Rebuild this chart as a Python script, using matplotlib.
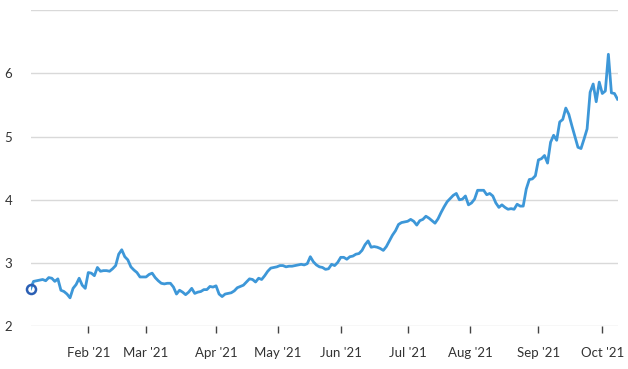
import numpy as np
import pandas as pd
import matplotlib
matplotlib.use("Agg")
import matplotlib.pyplot as plt

# ---- data (trading-day closes) ----
jan = [2.59, 2.71, 2.72, 2.73, 2.74, 2.72, 2.77, 2.76, 2.71, 2.75, 2.57, 2.55,
       2.51, 2.45, 2.60, 2.66, 2.76, 2.65, 2.60]
feb = [2.85, 2.84, 2.80, 2.93, 2.87, 2.88, 2.88, 2.87, 2.91, 2.96, 3.14, 3.21,
       3.10, 3.05, 2.94, 2.89, 2.85, 2.78, 2.78]
mar = [2.78, 2.82, 2.84, 2.77, 2.72, 2.68, 2.67, 2.68, 2.68, 2.62, 2.51, 2.57,
       2.54, 2.50, 2.54, 2.60, 2.52, 2.54, 2.55, 2.58, 2.58, 2.63, 2.62]
apr = [2.64, 2.51, 2.47, 2.51, 2.52, 2.53, 2.56, 2.61, 2.63, 2.65, 2.70, 2.75,
       2.74, 2.70, 2.76, 2.74, 2.80, 2.87, 2.92, 2.93, 2.94]
may = [2.96, 2.96, 2.94, 2.95, 2.95, 2.96, 2.97, 2.98, 2.97, 2.99, 3.10, 3.02,
       2.97, 2.94, 2.93, 2.90, 2.91, 2.98, 2.96, 3.01]
jun = [3.09, 3.09, 3.06, 3.10, 3.11, 3.14, 3.15, 3.20, 3.29, 3.35, 3.25, 3.26,
       3.25, 3.23, 3.20, 3.26, 3.35, 3.44, 3.51, 3.61, 3.64, 3.65]
jul = [3.66, 3.69, 3.66, 3.60, 3.67, 3.69, 3.74, 3.71, 3.67, 3.63, 3.70, 3.80,
       3.89, 3.97, 4.02, 4.07, 4.10, 4.00, 4.01, 4.06, 3.92]
aug = [3.95, 4.01, 4.15, 4.15, 4.15, 4.08, 4.10, 4.06, 3.95, 3.88, 3.92, 3.88,
       3.85, 3.86, 3.85, 3.93, 3.90, 3.90, 4.17, 4.32, 4.33, 4.38]
sep = [4.63, 4.65, 4.70, 4.58, 4.91, 5.02, 4.94, 5.23, 5.27, 5.45, 5.35, 5.17,
       5.00, 4.83, 4.81, 4.96, 5.12, 5.70, 5.83, 5.55, 5.86]
oct_ = [5.68, 5.72, 6.30, 5.69, 5.68, 5.59]

holidays = ["2021-01-18", "2021-02-15", "2021-04-02", "2021-05-31",
            "2021-07-05", "2021-09-06"]
start_date, end_date = "2021-01-04", "2021-10-08"

month_starts = ["2021-02-01", "2021-03-01", "2021-04-01", "2021-05-01",
                "2021-06-01", "2021-07-01", "2021-08-01", "2021-09-01",
                "2021-10-01"]
month_labels = ["Feb '21", "Mar '21", "Apr '21", "May '21", "Jun '21",
                "Jul '21", "Aug '21", "Sep '21", "Oct '21"]
y_ticks = [2, 3, 4, 5, 6, 7]
y_labels = ["2", "3", "4", "5", "6", ""]

values = np.array(jan + feb + mar + apr + may + jun + jul + aug + sep + oct_)
dates = pd.bdate_range(start_date, end_date, freq="C", holidays=holidays)
n = min(len(dates), len(values))
dates, values = dates[:n], values[:n]
idx = np.arange(n)

# tick positions: calendar month starts interpolated on the trading-day axis
d_num = dates.values.astype("datetime64[D]").astype(float)
m_num = pd.to_datetime(month_starts).values.astype("datetime64[D]").astype(float)
tick_pos = np.interp(m_num, d_num, idx)

# ---- figure ----
plt.rcParams["font.family"] = ["Lato", "DejaVu Sans"]
fig = plt.figure(figsize=(6.28, 3.69), dpi=100)
ax = fig.add_axes([30.5 / 628, 1 - 326.3 / 369, 587 / 628, (326.3 - 10) / 369])

ax.plot(idx, values, color="#3d97d8", lw=2.0, solid_joinstyle="round", zorder=3)
ax.plot(idx[:1], values[:1], marker="o", ms=6.5, mfc="none", mec="#2b5fb4",
        mew=1.8, clip_on=False, zorder=4, ls="none")

ax.set_xlim(0, n - 1)
ax.set_ylim(2, 7)
ax.set_yticks(y_ticks)
ax.set_yticklabels(y_labels)
ax.set_xticks(tick_pos)
ax.set_xticklabels(month_labels)

ax.grid(axis="y", color="#d9d9d9", lw=1.0)
ax.set_axisbelow(True)
for s in ax.spines.values():
    s.set_visible(False)

ax.tick_params(axis="y", length=0, pad=13, labelsize=9.5, labelcolor="#333333")
ax.tick_params(axis="x", length=5, width=1, color="#444444", direction="out",
               pad=10, labelsize=9.5, labelcolor="#333333")

fig.savefig("out.png", dpi=100)
